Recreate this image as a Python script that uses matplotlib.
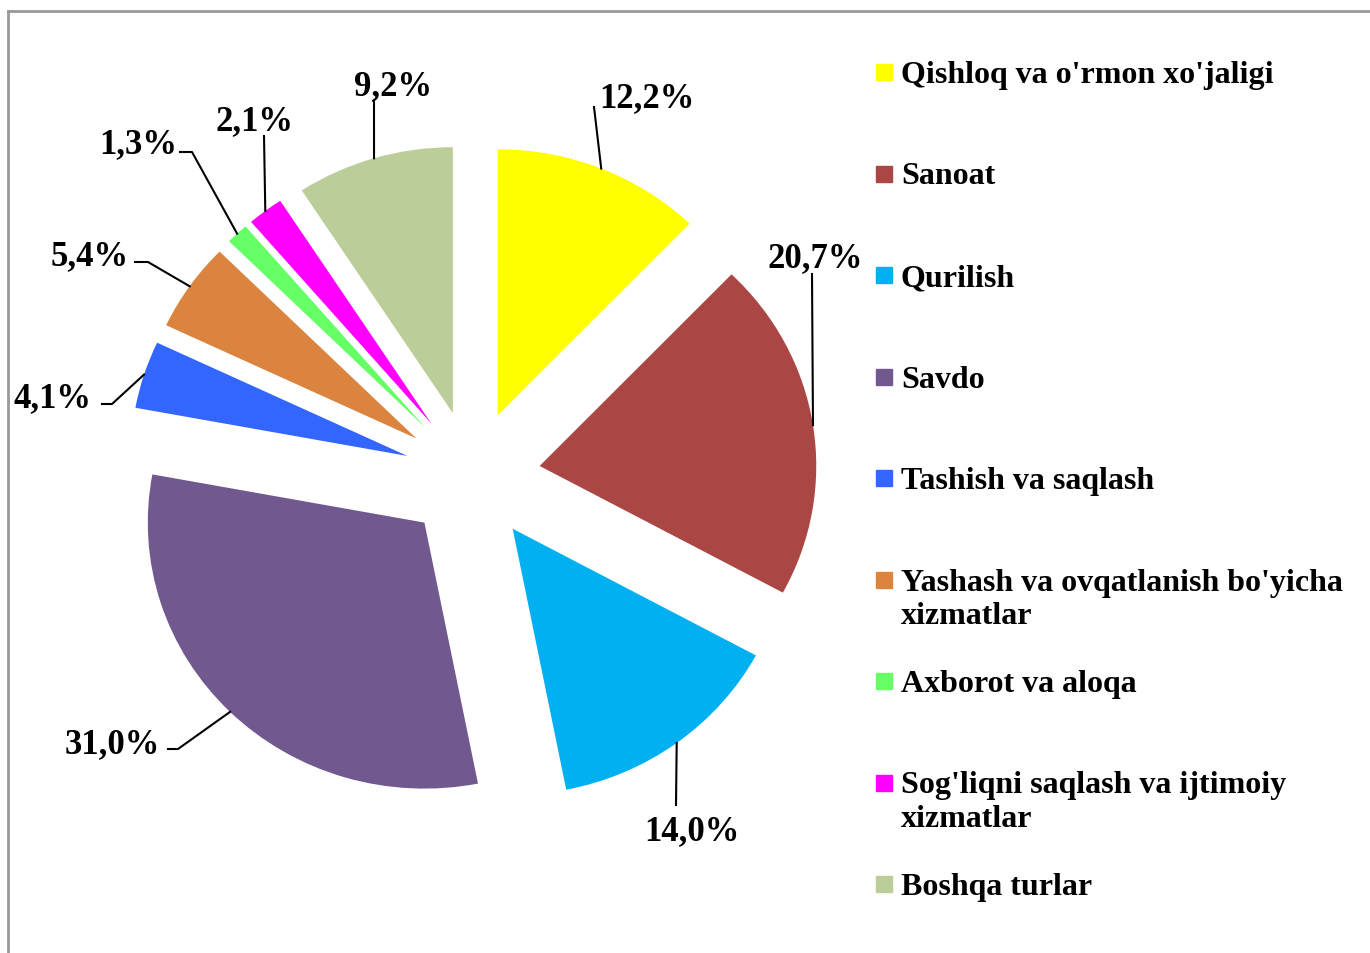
import numpy as np
import matplotlib.pyplot as plt
from matplotlib.patches import Rectangle

# --- Data ---
labels = ["Qishloq va o'rmon xo'jaligi", "Sanoat", "Qurilish", "Savdo",
          "Tashish va saqlash", "Yashash va ovqatlanish bo'yicha\nxizmatlar",
          "Axborot va aloqa", "Sog'liqni saqlash va ijtimoiy\nxizmatlar",
          "Boshqa turlar"]
values = [12.2, 20.7, 14.0, 31.0, 4.1, 5.4, 1.3, 2.1, 9.2]
colors = ["#FFFF00", "#AA4744", "#00B0F0", "#71588F", "#3366FF",
          "#DA843F", "#66FF66", "#FF00FF", "#BBCE99"]

# --- Layout (pixel coords, y down) ---
W, H = 1370, 954
kx = 1.04            # pie is slightly wider than tall
cx, cy = 472.3, 477
radius = 266
explode = 65.5

# label text centre and leader-line points (from label side)
label_pos = [(647, 99), (815, 259), (692, 832), (112, 745), (53, 399),
             (90, 257), (138, 145), (255, 122), (393, 87)]
leader_pts = [[(594, 108)], [(812, 275)], [(676, 806)],
              [(168, 750), (178, 750)], [(102, 405), (112, 405)],
              [(135, 263), (148, 263)], [(180, 153), (192, 153)],
              [(264, 137)], [(374, 101)]]

plt.rcParams['font.family'] = ['Liberation Serif', 'DejaVu Serif']
plt.rcParams['font.weight'] = 'bold'

fig = plt.figure(figsize=(W / 100, H / 100), dpi=100)

def fy(y):
    return H - y

# pie axes (x data units = px / kx)
pax = fig.add_axes([0, 0, 1, 1])
wedges, _ = pax.pie(values, colors=colors, startangle=90, counterclock=False,
                    center=(cx / kx, fy(cy)), radius=radius,
                    explode=[explode] * len(values), frame=True)
pax.set_aspect('auto')
pax.set_xlim(0, W / kx)
pax.set_ylim(0, H)
pax.axis('off')

# overlay axes in pixel units
ax = fig.add_axes([0, 0, 1, 1])
ax.set_xlim(0, W)
ax.set_ylim(0, H)
ax.axis('off')
ax.patch.set_alpha(0)

# leader lines and value labels
for w, v, pos, pts in zip(wedges, values, label_pos, leader_pts):
    mid = np.deg2rad((w.theta1 + w.theta2) / 2)
    a = (w.center[0] + radius * np.cos(mid), w.center[1] + radius * np.sin(mid))
    ax_x, ax_y = ax.transData.inverted().transform(pax.transData.transform(a))
    xs = [ax_x] + [p[0] for p in pts[::-1]]
    ys = [ax_y] + [fy(p[1]) for p in pts[::-1]]
    ax.plot(xs, ys, color='black', lw=1.5)
    ax.text(pos[0], fy(pos[1]), f"{v:.1f}%".replace('.', ','),
            ha='center', va='center', fontsize=25, fontweight='bold')

# legend drawn by hand (fixed entry spacing)
leg_x, leg_y0, leg_step = 876, 73, 101.5
for i, (lab, c) in enumerate(zip(labels, colors)):
    y = leg_y0 + i * leg_step
    ax.add_patch(Rectangle((leg_x, fy(y) - 8), 16, 16, color=c))
    for k, line in enumerate(lab.split('\n')):
        ax.text(leg_x + 25, fy(y + 10 + 34 * k), line, ha='left',
                va='baseline', fontsize=23, fontweight='bold')

# frame lines (top and left)
ax.plot([8, W], [fy(12), fy(12)], color='#999999', lw=2, clip_on=False)
ax.plot([8, 8], [fy(12), 0], color='#999999', lw=2, clip_on=False)

fig.savefig("out.png", dpi=100)
